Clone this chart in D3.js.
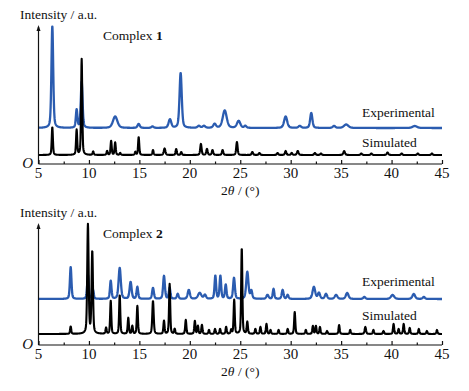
<!DOCTYPE html>
<html>
<head>
<meta charset="utf-8">
<script src="https://cdn.jsdelivr.net/npm/d3@7"></script>
<style>
  body { margin: 0; background: #fff; }
</style>
</head>
<body>
<div id="chart"></div>
<script>
// peak lists: [2theta, height, half width]
const ticks = [5, 10, 15, 20, 25, 30, 35, 40, 45];
const minorTicks = [7.5, 12.5, 17.5, 22.5, 27.5, 32.5, 37.5, 42.5];

const exp1Peaks = [
    [6.37, 102, 0.08], [8.78, 18, 0.07], [9.28, 46, 0.08], [12.6, 11.5, 0.2],
    [14.93, 4, 0.1], [16.3, 1.5, 0.1], [18.03, 8.5, 0.12], [19.09, 55, 0.1],
    [20.9, 2, 0.12], [21.4, 2, 0.12], [22.46, 4, 0.12], [23.46, 17.5, 0.18],
    [24.84, 7, 0.15], [25.5, 2, 0.1], [29.5, 11.5, 0.14], [30.9, 2, 0.12],
    [32.04, 15, 0.1], [34.3, 2, 0.12], [35.5, 3.5, 0.2], [42.3, 2, 0.2]
];
const sim1Peaks = [
    [6.37, 28, 0.05], [8.78, 25, 0.05], [9.28, 96, 0.05], [10.42, 3.5, 0.05],
    [11.8, 4, 0.05], [12.2, 14, 0.05], [12.6, 12.5, 0.05], [13.1, 2, 0.05],
    [14.6, 3, 0.05], [14.93, 18, 0.05], [16.35, 5, 0.05], [17.5, 6.5, 0.07],
    [18.65, 6, 0.05], [19.15, 3, 0.05], [21.1, 11, 0.06], [21.7, 6, 0.06],
    [22.25, 5, 0.06], [23.25, 5, 0.06], [24.67, 13, 0.06], [26.2, 3, 0.06],
    [26.9, 2, 0.06], [28.7, 2, 0.06], [29.5, 4, 0.06], [30.1, 2, 0.06],
    [30.7, 4, 0.07], [32.4, 2, 0.06], [33.0, 1.5, 0.06], [35.3, 4, 0.07],
    [37.0, 1.5, 0.06], [38.0, 1.5, 0.06], [39.6, 2.5, 0.07], [41.0, 1.5, 0.06],
    [42.6, 1.5, 0.06], [44.0, 1.5, 0.06]
];

const exp2Peaks = [
    [8.19, 32, 0.07], [9.9, 24, 0.07], [10.4, 9, 0.07], [12.16, 18, 0.07],
    [13.05, 31, 0.1], [14.13, 17, 0.09], [14.8, 12, 0.07], [16.35, 11, 0.08],
    [17.44, 23, 0.08], [18.0, 11, 0.07], [18.8, 5, 0.08], [19.9, 9, 0.1],
    [20.98, 6, 0.15], [21.5, 4, 0.1], [22.53, 23, 0.07], [23.03, 23, 0.07],
    [23.56, 14, 0.07], [24.38, 21, 0.08], [25.7, 27, 0.1], [26.1, 8, 0.08],
    [27.7, 4, 0.1], [28.3, 10, 0.07], [29.2, 9, 0.08], [29.7, 4, 0.08],
    [32.3, 12, 0.12], [32.8, 6, 0.1], [33.5, 5, 0.1], [34.5, 4, 0.12],
    [35.6, 6, 0.12], [37.3, 2, 0.1], [40.1, 4, 0.15], [42.2, 5, 0.12],
    [43.2, 2, 0.1]
];
const sim2Peaks = [
    [8.19, 7.5, 0.05], [9.9, 109, 0.06], [10.33, 82, 0.06], [11.7, 6, 0.05],
    [12.16, 33, 0.05], [13.05, 39, 0.05], [13.9, 16, 0.05], [14.3, 8, 0.05],
    [14.8, 28, 0.05], [16.35, 33, 0.06], [17.44, 13, 0.05], [18.0, 50, 0.05],
    [18.5, 5, 0.05], [19.6, 14, 0.05], [20.5, 13, 0.05], [20.8, 8, 0.05],
    [21.2, 9, 0.05], [21.9, 4, 0.05], [22.5, 5, 0.05], [23.0, 5, 0.05],
    [23.6, 7, 0.05], [24.1, 4, 0.05], [24.4, 34, 0.05], [25.15, 86, 0.05],
    [25.7, 12, 0.05], [26.5, 5, 0.05], [27.0, 7, 0.05], [27.6, 10, 0.05],
    [28.0, 4, 0.05], [28.8, 4, 0.05], [29.7, 5, 0.05], [30.4, 22, 0.05],
    [31.5, 4, 0.05], [32.2, 8, 0.05], [32.5, 8, 0.05], [32.9, 7, 0.05],
    [33.6, 3, 0.05], [34.8, 9, 0.05], [35.9, 4, 0.05], [37.4, 7, 0.06],
    [38.2, 4, 0.05], [39.2, 3, 0.05], [40.2, 10, 0.05], [40.7, 5, 0.05],
    [41.2, 10, 0.05], [41.8, 6, 0.05], [42.7, 5, 0.05], [43.5, 3, 0.05],
    [44.5, 4, 0.05]
];

const width = 469, height = 391;
const blue = "#2b5cb0";
const serif = '"Liberation Serif"';

const svg = d3.select("#chart").append("svg")
    .attr("width", width)
    .attr("height", height);

const x = d3.scaleLinear().domain([5, 45]).range([38.5, 442]);

// grid of 2theta for drawing the profiles
const grid = d3.range(5, 45.0001, 0.02);

function profile(peaks, offset, widen) {
    return grid.map(t => {
        let s = offset;
        peaks.forEach(p => {
            const u = (t - p[0]) / (p[2] * widen);
            s += p[1] * (0.6 * Math.exp(-0.693 * u * u) + 0.4 / (1 + u * u));
        });
        return [t, s];
    });
}

function txt(g) {
    return g.append("text").style("font-family", serif).attr("fill", "#111");
}

function drawPanel(cfg) {
    const g = svg.append("g");
    const y = d3.scaleLinear().domain([0, cfg.top]).range([cfg.axisY, cfg.axisY - cfg.top]);

    const line = d3.line()
        .x(d => x(d[0]))
        .y(d => y(d[1]));

    g.append("path")
        .datum(profile(cfg.exp, cfg.expOffset, 1.3))
        .attr("d", line)
        .attr("fill", "none")
        .attr("stroke", blue)
        .attr("stroke-width", 2.3)
        .attr("stroke-linejoin", "round");

    g.append("path")
        .datum(profile(cfg.sim, cfg.simOffset, 1.35))
        .attr("d", line)
        .attr("fill", "none")
        .attr("stroke", "#000")
        .attr("stroke-width", 2.1)
        .attr("stroke-linejoin", "round");

    // x axis, ticks point inward
    const xAxis = d3.axisTop(x).tickValues(ticks).tickSize(4).tickFormat("");
    g.append("g")
        .attr("transform", `translate(0,${cfg.axisY})`)
        .call(xAxis)
        .call(a => a.select(".domain").attr("stroke", "#111").attr("stroke-width", 1.2)
            .attr("d", `M${x(5)},0H${x(45)}`))
        .call(a => a.selectAll(".tick line").attr("stroke", "#111").attr("stroke-width", 1.2));

    g.append("g")
        .attr("transform", `translate(0,${cfg.axisY})`)
        .call(d3.axisTop(x).tickValues(minorTicks).tickSize(2.5).tickFormat(""))
        .call(a => a.select(".domain").remove())
        .call(a => a.selectAll(".tick line").attr("stroke", "#111").attr("stroke-width", 1.2));

    g.selectAll(".tlabel")
        .data(ticks)
        .join("text")
        .attr("class", "tlabel")
        .style("font-family", serif)
        .attr("fill", "#111")
        .attr("x", d => x(d))
        .attr("y", cfg.axisY + 14)
        .attr("text-anchor", "middle")
        .attr("font-size", 15)
        .text(d => d);

    // y axis with arrow
    g.append("line")
        .attr("x1", x(5)).attr("x2", x(5))
        .attr("y1", cfg.axisY).attr("y2", cfg.arrowY + 2)
        .attr("stroke", "#111").attr("stroke-width", 1.2);
    g.append("path")
        .attr("d", `M${x(5)},${cfg.arrowY} l-2,6 l4,0 z`)
        .attr("fill", "#111");

    txt(g)
        .attr("x", 33).attr("y", cfg.axisY + 4)
        .attr("text-anchor", "end")
        .attr("font-size", 15)
        .attr("font-style", "italic")
        .text("O");

    txt(g)
        .attr("x", 20).attr("y", cfg.arrowY - 6)
        .attr("font-size", 13.5)
        .text("Intensity / a.u.");

    const ct = txt(g)
        .attr("x", 103).attr("y", cfg.arrowY + 15)
        .attr("font-size", 13.5);
    ct.append("tspan").text("Complex ");
    ct.append("tspan").attr("font-weight", "bold").text(cfg.num);

    txt(g)
        .attr("x", 362).attr("y", cfg.expLabelY)
        .attr("font-size", 13.5)
        .text("Experimental");
    txt(g)
        .attr("x", 362).attr("y", cfg.simLabelY)
        .attr("font-size", 13.5)
        .text("Simulated");

    const xt = txt(g)
        .attr("x", x(25)).attr("y", cfg.axisY + 31)
        .attr("text-anchor", "middle")
        .attr("font-size", 13.5);
    xt.append("tspan").text("2");
    xt.append("tspan").attr("font-style", "italic").text("θ");
    xt.append("tspan").text(" / (°)");
}

drawPanel({
    num: "1", exp: exp1Peaks, sim: sim1Peaks,
    axisY: 164, top: 140, arrowY: 25,
    expOffset: 36, simOffset: 9,
    expLabelY: 117, simLabelY: 147
});

drawPanel({
    num: "2", exp: exp2Peaks, sim: sim2Peaks,
    axisY: 345, top: 122, arrowY: 223,
    expOffset: 46, simOffset: 11,
    expLabelY: 286, simLabelY: 320
});
</script>
</body>
</html>
